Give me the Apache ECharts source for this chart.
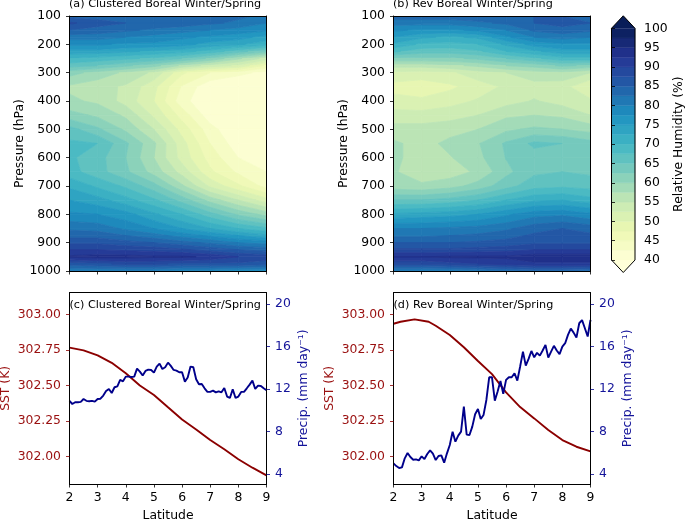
<!DOCTYPE html>
<html><head><meta charset="utf-8">
<style>html,body{margin:0;padding:0;background:#fff}#c{width:685px;height:520px}#c canvas{filter:blur(0.4px)}</style>
<script src="https://cdn.jsdelivr.net/npm/echarts@6/dist/echarts.min.js"></script>
</head><body><div id="c"></div>
<script>
const titles = ['(a) Clustered Boreal Winter/Spring','(b) Rev Boreal Winter/Spring','(c) Clustered Boreal Winter/Spring','(d) Rev Boreal Winter/Spring'];
const latitudes = [2,3,4,5,6,7,8,9];
const pressures = [100,125,150,175,200,225,250,275,300,350,400,450,500,550,600,650,700,750,800,850,875,900,925,950,975,1000];
const rhClustered = [
[84,84,84,84,84,84,83,82],
[88,86,85,84,84,83,82,80],
[85,84,83,82,81,80,79,78],
[81,81,80,79,78,77,76,74],
[78,78,77,77,76,74,73,71],
[74,74,73,72,71,69,66,63],
[70,69,68,67,65,62,58,54],
[66,65,63,61,57,54,52,47],
[61,59,57,54.5,48,45,43.5,41.5],
[57,56,54.6,50.7,44.7,40.5,39,38],
[58,57,54,50,43.5,40,39,38],
[61,59.5,57,52,46.5,41,39,38],
[66,63,59.5,55,49,43.5,40,38.5],
[68,67.5,63,58,51,45,41,39],
[68,66,62.5,57.5,51.5,46.5,42.5,40],
[68.5,66,63,59,54,48,44.5,42.5],
[72,69.5,67,63.5,58,52,48,44],
[75,73.5,71,68,64,59,55,51],
[78,77.5,76,73,70,66,62,59],
[82,81.5,79.5,77.5,75,72.5,70,68],
[84,84,82.5,81,79,77,75,73],
[87,87,86,85,83.5,82,80,79],
[90,90,89.5,89,88,86.5,85,84],
[93,93.5,93.5,93,93,92,90,89],
[86,87,88,88,87,87,87,86],
[80,80,80,80,79,79,78,78]];
const rhRev = [
[84,84,84,84,84,85,85,84],
[81,81,81,82,83,85,86,85],
[78,77,77,78,80,83,84,83],
[75,73,72,73,77,80,81,80],
[72,69.5,69,70,73,76,77,77],
[68,66,66,67,70,72,74,74],
[62,62,62,63,65,67,69,69],
[56,56,57,58,60,61,63,62],
[52,51.5,52,54,55,56.5,57,55],
[49,48.5,49.5,51.2,53,54,53.5,50],
[51,50.5,51.5,52.8,54,55.2,54,53],
[53.5,53.5,54,55,57,57.5,57,55],
[56,56,56.5,57.5,59.5,60.5,60,59],
[58,56.5,58.2,59.8,62.9,65.6,65,63.5],
[58,56.5,57.3,59.3,62.6,63.8,63.8,63],
[57.8,56,56.2,58,61.8,64.5,65,64.5],
[58.5,58,59,61,64,66.5,67,66.5],
[65,65,66,67.5,70,72,72.5,71],
[73,73.5,74,75,77,79,79.5,78],
[80,80,80.5,81,82,84,85,84],
[82,82,82.5,83,84,85.5,86,85.5],
[85,85,85,85.5,86,87,87,87],
[88,88,88,88.5,89,90,90,90],
[92.5,92.5,93,93,93,94,94,94],
[88,88,89,90,91,92,92,92],
[80,80,80,81,82,83,83,82]];
const sstLatC = [2,2.5,3,3.5,4,4.5,5,5.5,6,6.5,7,7.5,8,8.5,9];
const sstC = [302.767,302.748,302.713,302.66,302.586,302.5,302.433,302.346,302.26,302.19,302.115,302.05,301.98,301.92,301.866];
const sstLatD = [2,2.25,2.75,3.25,3.5,4,4.5,5,5.5,6,6.5,7,7.5,8,8.5,9];
const sstD = [302.936,302.95,302.967,302.95,302.922,302.856,302.77,302.673,302.58,302.452,302.348,302.268,302.186,302.115,302.068,302.035];
const precipC = [10.9,10.6,10.76,10.76,10.8,11.07,10.9,10.86,10.9,10.82,
11.07,11.1,11.4,11.83,12.02,11.64,12.18,12.27,12.87,12.74,
13.18,13.18,13.15,13.18,13.94,13.65,13.28,13.72,13.84,13.81,
13.56,14.13,14.41,13.9,14.06,14.5,14.19,13.81,13.75,13.59,
13.59,12.71,13.09,14.13,14.06,12.93,12.46,12.49,12.08,11.74,
11.74,11.86,11.7,11.8,11.7,12.11,11.3,11.17,11.99,11.17,
11.3,11.74,11.74,12.08,12.43,12.8,12.02,12.33,12.3,12.08,11.9];
const precipD = [5.0,4.75,4.57,4.63,5.48,5.98,5.6,5.35,5.38,5.29,
5.67,5.41,5.89,6.23,5.92,5.32,5.7,5.76,5.07,5.95,
6.74,7.99,7.05,7.62,8.0,10.35,7.71,7.68,8.47,9.63,
10.13,9.19,9.57,10.98,13.12,13.12,10.92,11.77,12.77,11.55,
12.87,13.12,13.12,13.5,12.8,14.13,15.54,14.22,14.85,15.6,
15.0,15.42,15.16,15.64,16.17,14.97,15.54,16.08,15.64,15.3,
16.0,16.33,17.11,17.71,17.33,16.86,18.21,18.5,17.74,16.96,18.53];
const sstTicks = [302,302.25,302.5,302.75,303];
const precipTicks = [4,8,12,16,20];
const levels = [40,42.5,45,47.5,50,52.5,55,57.5,60,62.5,65,67.5,70,72.5,75,77.5,80,82.5,85,87.5,90,92.5,95,97.5,100];
const cmap = ['#ffffd9','#edf8b1','#c7e9b4','#7fcdbb','#41b6c4','#1d91c0','#225ea8','#253494','#081d58'];

const FONT = 'DejaVu Sans';
const RED = '#8b0000', BLUE = '#00008b', REDTXT = '#9a1010', BLUETXT = '#14149a';
function hex(c){return [1,3,5].map(i=>parseInt(c.substr(i,2),16));}
function colorAt(v){
  const t = Math.max(0,Math.min(1,(v-40)/60))*8, i = Math.min(7,Math.floor(t)), f = t-i;
  const a = hex(cmap[i]), b = hex(cmap[i+1]);
  return 'rgb('+a.map((x,k)=>Math.round(x+(b[k]-x)*f)).join(',')+')';
}
const bands = levels.slice(0,-1).map((l,i)=>({lo:i===0?-1e9:l, hi:i===levels.length-2?1e9:levels[i+1], color:colorAt((l+levels[i+1])/2)}));
function clip(poly,limit,keepAbove){
  const out=[];
  for(let i=0;i<poly.length;i++){
    const p=poly[i], q=poly[(i+1)%poly.length];
    const pin=keepAbove?p[2]>=limit:p[2]<=limit, qin=keepAbove?q[2]>=limit:q[2]<=limit;
    if(pin) out.push(p);
    if(pin!==qin){
      const t=(limit-p[2])/(q[2]-p[2]);
      out.push([p[0]+(q[0]-p[0])*t,p[1]+(q[1]-p[1])*t,limit]);
    }
  }
  return out;
}
function contourSeries(matrix,idx){
  const cells=[];
  for(let j=0;j<pressures.length-1;j++) for(let i=0;i<latitudes.length-1;i++) cells.push([i,j]);
  return {
    type:'custom', xAxisIndex:idx*2, yAxisIndex:idx*2, coordinateSystem:'cartesian2d', silent:true, clip:true, z:2,
    encode:{x:0,y:1}, data:cells,
    renderItem(params,api){
      const i=api.value(0), j=api.value(1);
      const corner=(a,b)=>{const c=api.coord([latitudes[a],pressures[b]]);return [c[0],c[1],matrix[b][a]];};
      const quad=[corner(i,j),corner(i+1,j),corner(i+1,j+1),corner(i,j+1)];
      const children=[];
      bands.forEach(b=>{
        let p=clip(quad,b.lo,true); if(p.length<3) return;
        p=clip(p,b.hi,false); if(p.length<3) return;
        children.push({type:'polygon',shape:{points:p.map(v=>[v[0],v[1]])},style:{fill:b.color,stroke:b.color,lineWidth:0.75}});
      });
      return {type:'group',children};
    }
  };
}
const GR = [
 {left:69.5,top:16,width:197,height:255},
 {left:393.5,top:16,width:197,height:255},
 {left:69.5,top:292.7,width:197,height:191.3},
 {left:393.5,top:292.7,width:197,height:191.3},
 {left:611.5,top:28.3,width:23.5,height:231.7}];
const txt = (c)=>({fontFamily:FONT,fontSize:12.4,color:c||'#000'});
const frame = {show:true,lineStyle:{color:'#000',width:1}};
const tick = (c)=>({show:true,length:3.5,lineStyle:{color:c||'#000',width:0.8}});
const YPAD=[3,0,0,0];
const xAxes=[], yAxes=[];
for(let g=0;g<4;g++){
  const bottom = g>=2;
  xAxes.push({gridIndex:g,type:'value',min:2,max:9,interval:1,position:'bottom',z:10,axisLine:{...frame,onZero:false},axisTick:tick(),
    axisLabel:{show:bottom,...txt(),margin:7.5,hideOverlap:false},splitLine:{show:false},
    name:bottom?'Latitude':'',nameLocation:'middle',nameGap:26,nameTextStyle:txt()});
  xAxes.push({gridIndex:g,type:'value',min:2,max:9,position:'top',z:10,axisLine:{...frame,onZero:false},axisTick:{show:false},axisLabel:{show:false},splitLine:{show:false}});
  if(!bottom){
    yAxes.push({gridIndex:g,type:'value',inverse:true,min:100,max:1000,interval:100,position:'left',z:10,axisLine:{...frame,onZero:false},axisTick:tick(),
      axisLabel:{...txt(),margin:8.5,padding:YPAD,formatter:v=>String(v)},splitLine:{show:false},name:'Pressure (hPa)',nameLocation:'middle',nameGap:43,nameTextStyle:txt()});
    yAxes.push({gridIndex:g,type:'value',min:100,max:1000,position:'right',z:10,axisLine:{...frame,onZero:false},axisTick:{show:false},axisLabel:{show:false},splitLine:{show:false}});
  } else {
    yAxes.push({gridIndex:g,type:'value',min:301.805,max:303.155,position:'left',z:10,axisLine:{...frame,onZero:false},
      axisTick:{...tick(RED),customValues:sstTicks},
      axisLabel:{...txt(REDTXT),margin:8.5,padding:YPAD,customValues:sstTicks,formatter:v=>Number(v).toFixed(2)},splitLine:{show:false},
      name:'SST (K)',nameLocation:'middle',nameGap:58,nameTextStyle:txt(REDTXT)});
    yAxes.push({gridIndex:g,type:'value',min:3.06,max:21.09,position:'right',z:10,axisLine:{...frame,onZero:false},
      axisTick:{...tick(BLUE),customValues:precipTicks},
      axisLabel:{...txt(BLUETXT),margin:8.5,padding:YPAD,customValues:precipTicks},splitLine:{show:false},
      name:'Precip. (mm day\u207B\u00B9)',nameLocation:'middle',nameRotate:90,nameGap:31,nameTextStyle:txt(BLUETXT)});
  }
}
// colour bar axes
xAxes.push({gridIndex:4,type:'value',min:0,max:1,show:false});
yAxes.push({gridIndex:4,type:'value',min:40,max:100,interval:5,position:'right',z:10,axisLine:{show:false},axisTick:tick(),
  axisLabel:{...txt(),margin:9,padding:YPAD},splitLine:{show:false},name:'Relative Humidity (%)',nameLocation:'middle',nameRotate:90,nameGap:38,nameTextStyle:txt()});
const colorbar = {
  type:'custom',xAxisIndex:8,yAxisIndex:8,coordinateSystem:'cartesian2d',silent:true,clip:false,z:3,
  encode:{x:0,y:1},data:[[0,40]],
  renderItem(params,api){
    const c=[];
    const L=api.coord([0,40])[0],R=api.coord([1,40])[0],Y0=api.coord([0,40])[1],Y1=api.coord([0,100])[1];
    const capH=12.5;
    const mid=(L+R)/2;
    c.push({type:'polygon',shape:{points:[[L,Y0],[R,Y0],[mid,Y0+capH]]},style:{fill:colorAt(40)}});
    c.push({type:'polygon',shape:{points:[[L,Y1],[R,Y1],[mid,Y1-capH]]},style:{fill:colorAt(100)}});
    bands.forEach((b,k)=>{
      const a=api.coord([0,levels[k]]),d=api.coord([1,levels[k+1]]);
      c.push({type:'polygon',shape:{points:[[a[0],a[1]],[d[0],a[1]],[d[0],d[1]],[a[0],d[1]]]},style:{fill:b.color,stroke:b.color,lineWidth:0.4}});
    });
    c.push({type:'polygon',shape:{points:[[L,Y0],[mid,Y0+capH],[R,Y0],[R,Y1],[mid,Y1-capH],[L,Y1]]},style:{fill:'none',stroke:'#000',lineWidth:1}});
    return {type:'group',children:c};
  }
};
const lineS=(x,y,axis,color)=>({type:'line',xAxisIndex:axis.x,yAxisIndex:axis.y,data:x.map((v,i)=>[v,y[i]]),symbol:'none',
  lineStyle:{color,width:1.9},silent:true,z:4,clip:true});
const precipLat = precipC.map((_,i)=>2+i*0.1);
const option = {
  animation:false,backgroundColor:'#fff',
  title:[
   {text:titles[0],left:69,top:-1},
   {text:titles[1],left:393,top:-1},
   {text:titles[2],left:69.5,top:299.5},
   {text:titles[3],left:393.5,top:299.5}
  ].map(t=>({...t,padding:0,textStyle:{fontFamily:FONT,fontSize:11.2,fontWeight:'normal',color:'#000'},z:20})),
  grid:GR.map(g=>({...g,containLabel:false,outerBoundsMode:'none'})),
  xAxis:xAxes,yAxis:yAxes,
  series:[
    contourSeries(rhClustered,0),
    contourSeries(rhRev,1),
    lineS(sstLatC,sstC,{x:4,y:4},RED),
    lineS(precipLat,precipC,{x:4,y:5},BLUE),
    lineS(sstLatD,sstD,{x:6,y:6},RED),
    lineS(precipLat,precipD,{x:6,y:7},BLUE),
    colorbar
  ]
};
echarts.init(document.getElementById('c'),null,{renderer:'canvas'}).setOption(option);
</script></body></html>
